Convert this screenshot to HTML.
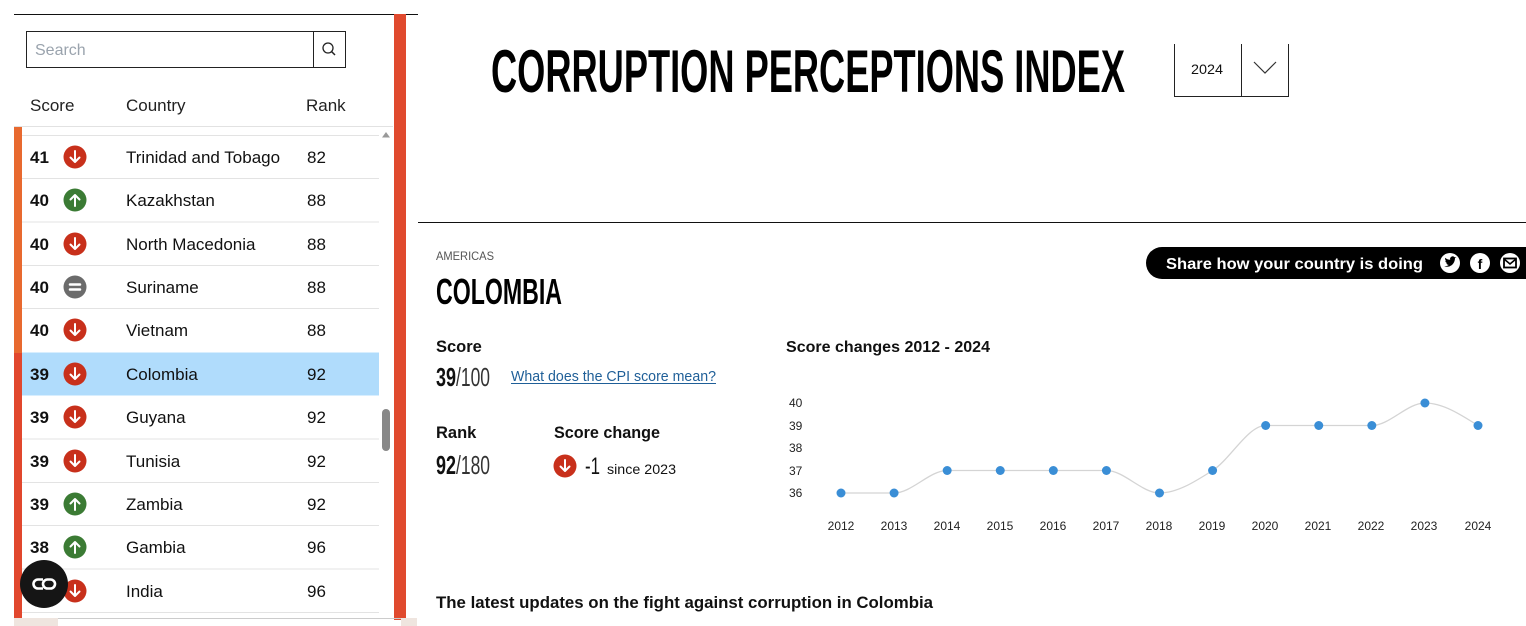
<!DOCTYPE html>
<html><head><meta charset="utf-8"><style>
html,body{margin:0;padding:0;background:#fff;}
svg{display:block;}
text{font-family:"Liberation Sans",sans-serif;}
</style></head><body>
<svg width="1526" height="626" viewBox="0 0 1526 626" xmlns="http://www.w3.org/2000/svg">
<rect width="1526" height="626" fill="#fff"/>
<!-- LEFT PANEL -->
<line x1="14" y1="14.5" x2="418" y2="14.5" stroke="#111" stroke-width="1"/>
<rect x="394" y="14" width="12" height="606" fill="#e04a2e"/>
<rect x="26.5" y="31.5" width="319" height="36" fill="#fff" stroke="#222" stroke-width="1"/>
<line x1="313.5" y1="31" x2="313.5" y2="67" stroke="#222"/>
<text x="35" y="55" font-size="16" fill="#9aa3ad">Search</text>
<circle cx="328" cy="48" r="5" fill="none" stroke="#222" stroke-width="1.3"/>
<line x1="331.5" y1="51.5" x2="335" y2="55" stroke="#222" stroke-width="1.5"/>
<text x="30" y="111" font-size="17" fill="#222">Score</text>
<text x="126" y="111" font-size="17" fill="#222">Country</text>
<text x="306" y="111" font-size="17" fill="#222">Rank</text>
<line x1="14" y1="126.5" x2="393" y2="126.5" stroke="#e2e2e2"/>
<rect x="14" y="127" width="8" height="226" fill="#e8692f"/>
<rect x="14" y="353" width="8" height="265" fill="#e1472d"/>
<rect x="22" y="352.5" width="357" height="43" fill="#b0dcfc"/>
<g stroke="#e3e3e3" stroke-width="1">
<line x1="22" y1="135.5" x2="379" y2="135.5"/>
<line x1="22" y1="178.5" x2="379" y2="178.5"/>
<line x1="22" y1="222" x2="379" y2="222"/>
<line x1="22" y1="265.5" x2="379" y2="265.5"/>
<line x1="22" y1="308.5" x2="379" y2="308.5"/>
<line x1="22" y1="439" x2="379" y2="439"/>
<line x1="22" y1="482.5" x2="379" y2="482.5"/>
<line x1="22" y1="525.5" x2="379" y2="525.5"/>
<line x1="22" y1="569" x2="379" y2="569"/>
<line x1="22" y1="612.5" x2="379" y2="612.5"/>
</g>
<!-- scrollbar -->
<polygon points="382,137.5 390,137.5 386,132" fill="#999"/>
<rect x="382" y="409" width="8" height="42" rx="4" fill="#888"/>
<!-- rows -->
<g font-size="17" fill="#111">
<text x="30" y="163" font-weight="bold">41</text><text x="126" y="163">Trinidad and Tobago</text><text x="307" y="163">82</text>
<text x="30" y="206" font-weight="bold">40</text><text x="126" y="206">Kazakhstan</text><text x="307" y="206">88</text>
<text x="30" y="250" font-weight="bold">40</text><text x="126" y="250">North Macedonia</text><text x="307" y="250">88</text>
<text x="30" y="293" font-weight="bold">40</text><text x="126" y="293">Suriname</text><text x="307" y="293">88</text>
<text x="30" y="336" font-weight="bold">40</text><text x="126" y="336">Vietnam</text><text x="307" y="336">88</text>
<text x="30" y="380" font-weight="bold">39</text><text x="126" y="380">Colombia</text><text x="307" y="380">92</text>
<text x="30" y="423" font-weight="bold">39</text><text x="126" y="423">Guyana</text><text x="307" y="423">92</text>
<text x="30" y="467" font-weight="bold">39</text><text x="126" y="467">Tunisia</text><text x="307" y="467">92</text>
<text x="30" y="510" font-weight="bold">39</text><text x="126" y="510">Zambia</text><text x="307" y="510">92</text>
<text x="30" y="553" font-weight="bold">38</text><text x="126" y="553">Gambia</text><text x="307" y="553">96</text>
<text x="30" y="597" font-weight="bold">38</text><text x="126" y="597">India</text><text x="307" y="597">96</text>
</g>
<!-- icons -->
<g stroke="#fff" stroke-width="2" fill="none" stroke-linecap="round" stroke-linejoin="round">
<circle cx="75" cy="157" r="11.5" fill="#c8301b" stroke="none"/><path d="M75,151 V162 M70.5,157.5 L75,162 L79.5,157.5"/>
<circle cx="75" cy="200" r="11.5" fill="#3b7b34" stroke="none"/><path d="M75,206 V195 M70.5,199.5 L75,195 L79.5,199.5"/>
<circle cx="75" cy="244" r="11.5" fill="#c8301b" stroke="none"/><path d="M75,238 V249 M70.5,244.5 L75,249 L79.5,244.5"/>
<circle cx="75" cy="287" r="11.5" fill="#6b6b6b" stroke="none"/><path d="M70,284.5 H80 M70,289.5 H80" stroke-width="2.5"/>
<circle cx="75" cy="330" r="11.5" fill="#c8301b" stroke="none"/><path d="M75,324 V335 M70.5,330.5 L75,335 L79.5,330.5"/>
<circle cx="75" cy="374" r="11.5" fill="#c8301b" stroke="none"/><path d="M75,368 V379 M70.5,374.5 L75,379 L79.5,374.5"/>
<circle cx="75" cy="417" r="11.5" fill="#c8301b" stroke="none"/><path d="M75,411 V422 M70.5,417.5 L75,422 L79.5,417.5"/>
<circle cx="75" cy="461" r="11.5" fill="#c8301b" stroke="none"/><path d="M75,455 V466 M70.5,461.5 L75,466 L79.5,461.5"/>
<circle cx="75" cy="504" r="11.5" fill="#3b7b34" stroke="none"/><path d="M75,510 V499 M70.5,503.5 L75,499 L79.5,503.5"/>
<circle cx="75" cy="547" r="11.5" fill="#3b7b34" stroke="none"/><path d="M75,553 V542 M70.5,546.5 L75,542 L79.5,546.5"/>
<circle cx="75" cy="591" r="11.5" fill="#c8301b" stroke="none"/><path d="M75,585 V596 M70.5,591.5 L75,596 L79.5,591.5"/>
</g>
<!-- bottom scroll strip -->
<rect x="14" y="618" width="44" height="8" fill="#efe5df"/>
<line x1="58" y1="618.5" x2="401" y2="618.5" stroke="#ccc"/>
<rect x="401" y="618" width="16" height="8" fill="#efe5df"/>
<!-- floating button -->
<circle cx="44" cy="584" r="24" fill="#151515"/>
<path d="M43,579.5 H38 a4.5,4.5 0 0 0 0,9 H43" fill="none" stroke="#fff" stroke-width="2.6"/>
<rect x="43" y="579.5" width="12" height="9" rx="4.5" fill="none" stroke="#fff" stroke-width="2.6"/>

<!-- RIGHT: header -->
<text x="491" y="92" font-size="60" font-weight="bold" fill="#000" textLength="634" lengthAdjust="spacingAndGlyphs">CORRUPTION PERCEPTIONS INDEX</text>
<g stroke="#222" stroke-width="1">
<line x1="1174.5" y1="44" x2="1174.5" y2="97"/>
<line x1="1288.5" y1="44" x2="1288.5" y2="97"/>
<line x1="1241.5" y1="44" x2="1241.5" y2="97"/>
<line x1="1174" y1="96.5" x2="1289" y2="96.5"/>
</g>
<text x="1207" y="74" font-size="14" fill="#111" text-anchor="middle" textLength="32" lengthAdjust="spacingAndGlyphs">2024</text>
<polyline points="1254,62 1265,73 1276,62" fill="none" stroke="#333" stroke-width="1.2"/>
<line x1="418" y1="222.5" x2="1526" y2="222.5" stroke="#111"/>

<text x="436" y="260" font-size="12" fill="#555" textLength="58" lengthAdjust="spacingAndGlyphs">AMERICAS</text>
<text x="436" y="304" font-size="36" font-weight="bold" fill="#000" textLength="126" lengthAdjust="spacingAndGlyphs">COLOMBIA</text>

<!-- share pill -->
<rect x="1146" y="247" width="400" height="32" rx="16" fill="#000"/>
<text x="1166" y="269" font-size="16" font-weight="bold" fill="#fff" textLength="257" lengthAdjust="spacingAndGlyphs">Share how your country is doing</text>
<circle cx="1450" cy="263" r="10" fill="#fff"/>
<path d="M1444,266 q4,2 8,-1 q3,-3 3,-7 l1.5,-1 l-1.8,0.3 q-2,-2 -4,0 q-1,1 -0.5,2.5 q-3,0 -5,-2 q-0.5,2 1,3 l-1,0 q0.5,2 2,2.3 l-1,0.2 q0.8,1.5 2.5,1.7 q-2,1.5 -4.7,1" fill="#000"/>
<circle cx="1480" cy="263" r="10" fill="#fff"/>
<text x="1480" y="269" font-size="14" font-weight="bold" fill="#000" text-anchor="middle">f</text>
<circle cx="1510" cy="263" r="10" fill="#fff"/>
<rect x="1504" y="258.5" width="12" height="9" fill="none" stroke="#000" stroke-width="1.8"/>
<polyline points="1504,259 1510,264 1516,259" fill="none" stroke="#000" stroke-width="1.6"/>

<!-- score/rank -->
<text x="436" y="352" font-size="16.5" font-weight="bold" fill="#111">Score</text>
<text x="436" y="386" font-size="26" font-weight="bold" fill="#111" textLength="20" lengthAdjust="spacingAndGlyphs">39</text>
<text x="456" y="386" font-size="26" fill="#333" textLength="34" lengthAdjust="spacingAndGlyphs">/100</text>
<text x="511" y="381" font-size="14.5" fill="#1f5f98" textLength="205" lengthAdjust="spacingAndGlyphs">What does the CPI score mean?</text>
<line x1="511" y1="383.5" x2="716" y2="383.5" stroke="#1f5f98" stroke-width="1"/>

<text x="436" y="438" font-size="16.5" font-weight="bold" fill="#111">Rank</text>
<text x="436" y="474" font-size="26" font-weight="bold" fill="#111" textLength="20" lengthAdjust="spacingAndGlyphs">92</text>
<text x="456" y="474" font-size="26" fill="#333" textLength="34" lengthAdjust="spacingAndGlyphs">/180</text>
<text x="554" y="438" font-size="16.5" font-weight="bold" fill="#111" textLength="106" lengthAdjust="spacingAndGlyphs">Score change</text>
<circle cx="565" cy="466" r="11.5" fill="#c8301b"/>
<path d="M565,460 V471 M560.5,466.5 L565,471 L569.5,466.5" stroke="#fff" stroke-width="2" fill="none" stroke-linecap="round" stroke-linejoin="round"/>
<text x="585" y="474" font-size="24" fill="#111" textLength="15" lengthAdjust="spacingAndGlyphs">-1</text>
<text x="607" y="474" font-size="14" fill="#111" textLength="69" lengthAdjust="spacingAndGlyphs">since 2023</text>

<!-- chart -->
<text x="786" y="352" font-size="16" font-weight="bold" fill="#111" textLength="204" lengthAdjust="spacingAndGlyphs">Score changes 2012 - 2024</text>
<g font-size="12" fill="#222">
<text x="789" y="407">40</text>
<text x="789" y="430">39</text>
<text x="789" y="452">38</text>
<text x="789" y="475">37</text>
<text x="789" y="497">36</text>
</g>
<g font-size="12" fill="#222" text-anchor="middle">
<text x="841" y="530">2012</text>
<text x="894" y="530">2013</text>
<text x="947" y="530">2014</text>
<text x="1000" y="530">2015</text>
<text x="1053" y="530">2016</text>
<text x="1106" y="530">2017</text>
<text x="1159" y="530">2018</text>
<text x="1212" y="530">2019</text>
<text x="1265" y="530">2020</text>
<text x="1318" y="530">2021</text>
<text x="1371" y="530">2022</text>
<text x="1424" y="530">2023</text>
<text x="1478" y="530">2024</text>
</g>
<path d="M841,493 L894.08,493 C911.78,493 929.47,470.5 947.17,470.5 L1106.42,470.5 C1124.11,470.5 1141.81,493 1159.5,493 C1177.19,493 1194.89,481.75 1212.58,470.5 C1230.28,459.25 1247.97,425.5 1265.67,425.5 L1371.83,425.5 C1389.53,425.5 1407.22,403 1424.92,403 C1442.61,403 1460.31,414.25 1478,425.5" fill="none" stroke="#d4d4d4" stroke-width="1.3"/>
<g fill="#3a8ed6">
<circle cx="841" cy="493" r="4.5"/>
<circle cx="894.08" cy="493" r="4.5"/>
<circle cx="947.17" cy="470.5" r="4.5"/>
<circle cx="1000.25" cy="470.5" r="4.5"/>
<circle cx="1053.33" cy="470.5" r="4.5"/>
<circle cx="1106.42" cy="470.5" r="4.5"/>
<circle cx="1159.5" cy="493" r="4.5"/>
<circle cx="1212.58" cy="470.5" r="4.5"/>
<circle cx="1265.67" cy="425.5" r="4.5"/>
<circle cx="1318.75" cy="425.5" r="4.5"/>
<circle cx="1371.83" cy="425.5" r="4.5"/>
<circle cx="1424.92" cy="403" r="4.5"/>
<circle cx="1478" cy="425.5" r="4.5"/>
</g>

<text x="436" y="608" font-size="16.5" font-weight="bold" fill="#111" textLength="497" lengthAdjust="spacingAndGlyphs">The latest updates on the fight against corruption in Colombia</text>
</svg>
</body></html>
